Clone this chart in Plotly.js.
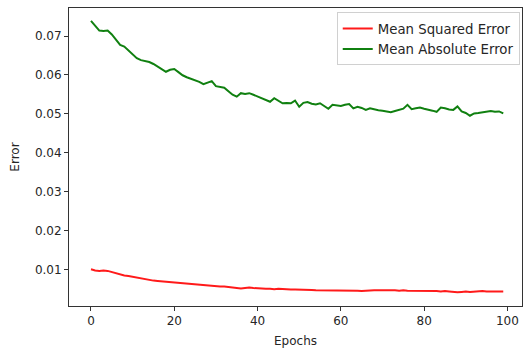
<!DOCTYPE html>
<html>
<head>
<meta charset="utf-8">
<script src="https://cdn.plot.ly/plotly-3.0.1.min.js"></script>
<style>html,body{margin:0;padding:0;background:#fff;}#chart{width:526px;height:351px;}</style>
</head>
<body>
<div id="chart"></div>
<script>
const seriesNames = ["Mean Squared Error", "Mean Absolute Error"];
const mse = [
0.0100,0.0097,0.0096,0.0097,0.0096,0.0093,0.0089,0.0086,0.0084,0.0083,
0.0081,0.0078,0.0076,0.0074,0.0073,0.0071,0.0070,0.0069,0.0068,0.0067,
0.0067,0.0066,0.0064,0.0063,0.0062,0.0061,0.0060,0.0059,0.0058,0.0058,
0.0057,0.0056,0.0056,0.0055,0.0053,0.0052,0.0051,0.0052,0.0053,0.0052,
0.0051,0.0051,0.0050,0.0050,0.0049,0.0050,0.0049,0.0049,0.0048,0.0048,
0.0048,0.0047,0.0047,0.0047,0.0046,0.0046,0.0046,0.0045,0.0046,0.0045,
0.0045,0.0045,0.0046,0.0045,0.0045,0.0044,0.0045,0.0045,0.0046,0.0046,
0.0046,0.0047,0.0046,0.0046,0.0045,0.0046,0.0045,0.0045,0.0045,0.0044,
0.0045,0.0045,0.0044,0.0044,0.0043,0.0044,0.0043,0.0042,0.0041,0.0042,
0.0043,0.0042,0.0043,0.0043,0.0044,0.0043,0.0043,0.0043,0.0043,0.0043
];
const mae = [
0.0739,0.0726,0.0714,0.0713,0.0714,0.0704,0.0690,0.0677,0.0673,0.0663,
0.0652,0.0643,0.0638,0.0635,0.0633,0.0628,0.0621,0.0614,0.0608,0.0613,
0.0615,0.0607,0.0599,0.0594,0.0590,0.0587,0.0582,0.0576,0.0579,0.0584,
0.0571,0.0569,0.0567,0.0558,0.0549,0.0544,0.0553,0.0551,0.0553,0.0549,
0.0545,0.0541,0.0535,0.0531,0.0540,0.0533,0.0527,0.0528,0.0527,0.0534,
0.0518,0.0528,0.0530,0.0526,0.0524,0.0527,0.0521,0.0513,0.0523,0.0521,
0.0520,0.0523,0.0525,0.0514,0.0518,0.0515,0.0510,0.0514,0.0511,0.0509,
0.0508,0.0506,0.0504,0.0507,0.0510,0.0513,0.0523,0.0512,0.0514,0.0516,
0.0513,0.0511,0.0508,0.0505,0.0516,0.0514,0.0511,0.0510,0.0519,0.0506,
0.0502,0.0495,0.0501,0.0502,0.0504,0.0505,0.0507,0.0505,0.0506,0.0501
];
const epochs = mse.map((_, i) => i);
const xTicks = [0, 20, 40, 60, 80, 100];
const yTicks = [0.01, 0.02, 0.03, 0.04, 0.05, 0.06, 0.07];

const font = {family: "DejaVu Sans, sans-serif", size: 12, color: "#262626"};
const traces = [
  {x: epochs, y: mse, name: seriesNames[0], mode: "lines", line: {color: "#ff1a1a", width: 2}},
  {x: epochs, y: mae, name: seriesNames[1], mode: "lines", line: {color: "#108010", width: 2}}
];
const layout = {
  width: 526, height: 351,
  margin: {l: 69, r: 4, t: 8, b: 45},
  paper_bgcolor: "#fff", plot_bgcolor: "#fff",
  font: font,
  showlegend: true,
  legend: {x: 0.995, y: 0.985, xanchor: "right", yanchor: "top",
    bgcolor: "rgba(255,255,255,0.85)", bordercolor: "#d0d0d0", borderwidth: 1,
    font: {family: "DejaVu Sans, sans-serif", size: 13.3, color: "#262626"},
    tracegroupgap: 0},
  xaxis: {range: [-5.28, 103.5], tickvals: xTicks, ticktext: xTicks.map(String),
    ticks: "outside", ticklen: 4, tickcolor: "#333", showgrid: false, zeroline: false,
    showline: true, linecolor: "#333", linewidth: 1, mirror: true,
    title: {text: "Epochs", font: font, standoff: 9}},
  yaxis: {range: [0.00057, 0.0772], tickvals: yTicks, ticktext: yTicks.map(v => v.toFixed(2)),
    ticks: "outside", ticklen: 4, tickcolor: "#333", showgrid: false, zeroline: false,
    showline: true, linecolor: "#333", linewidth: 1, mirror: true,
    title: {text: "Error", font: font, standoff: 12}}
};
Plotly.newPlot("chart", traces, layout, {displayModeBar: false, staticPlot: true});
</script>
</body>
</html>
